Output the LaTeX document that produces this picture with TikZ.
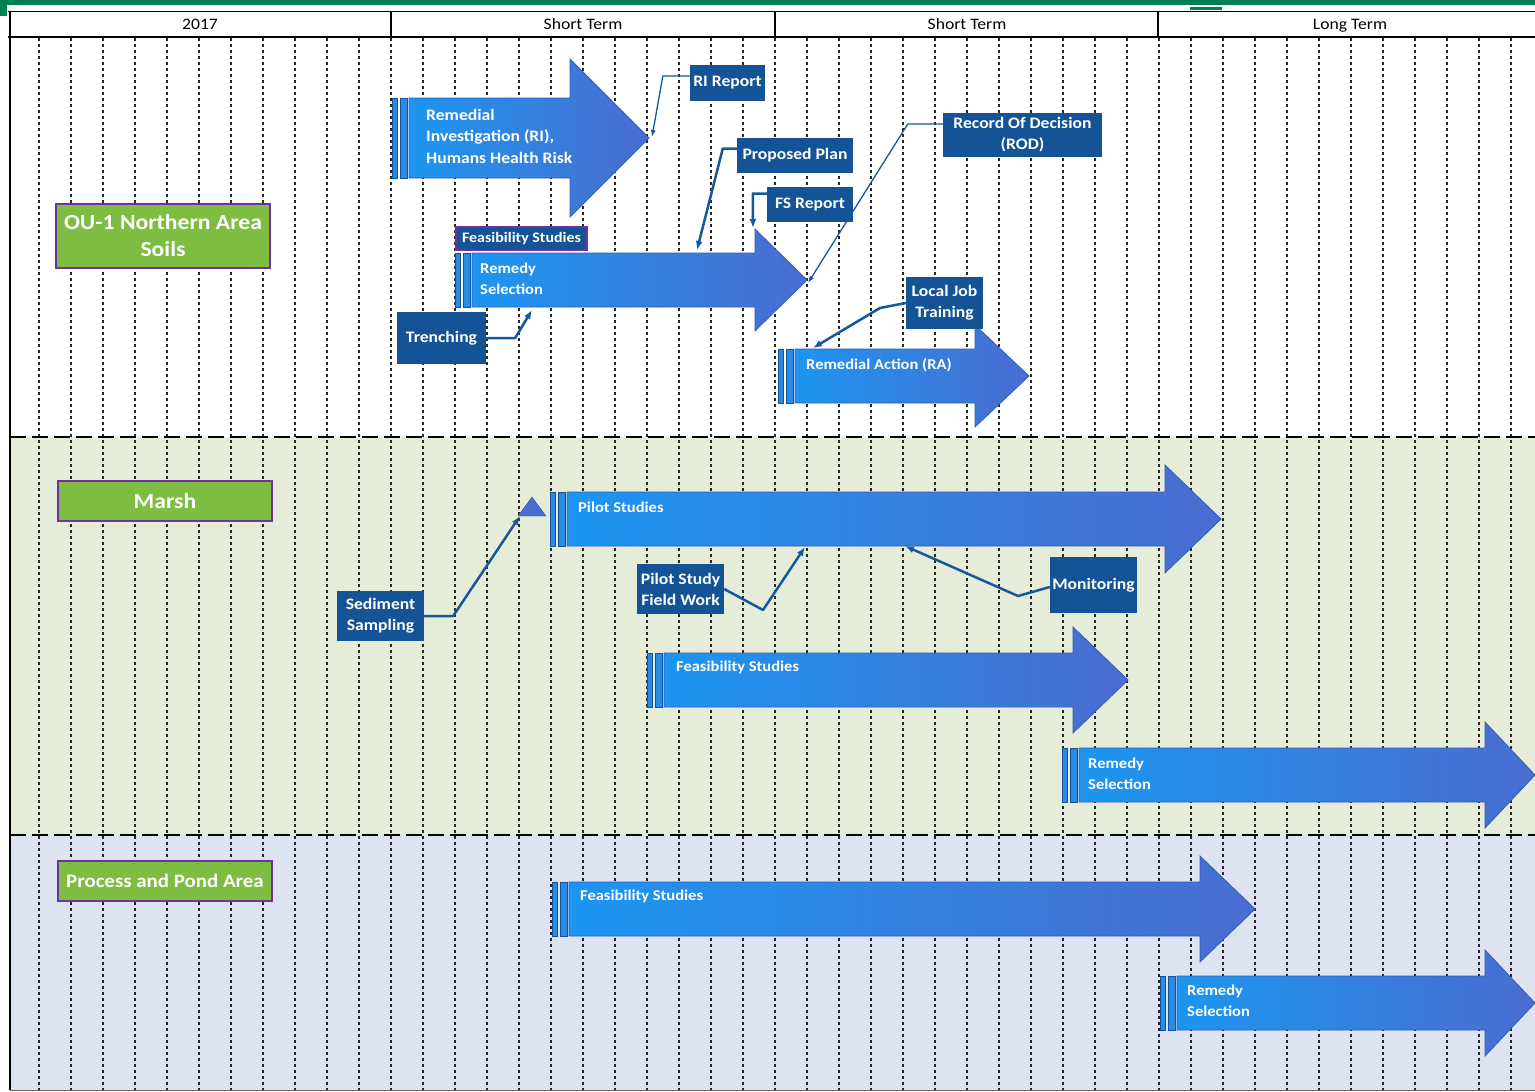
\documentclass[tikz,border=0pt]{standalone}
\usepackage{fontspec}
\setmainfont{Carlito}[FakeStretch=1.1]
\usetikzlibrary{arrows.meta}

\definecolor{BarGreen}{RGB}{0,128,80}
\definecolor{RowGreen}{RGB}{125,190,66}
\definecolor{RowPurple}{RGB}{112,48,160}
\definecolor{BandGreen}{RGB}{229,237,217}
\definecolor{BandBlue}{RGB}{221,227,240}
\definecolor{BoxBlue}{RGB}{20,84,150}
\definecolor{LinkBlue}{RGB}{22,88,158}
\definecolor{ArrLight}{RGB}{28,150,240}
\definecolor{ArrDark}{RGB}{74,108,208}
\definecolor{ArrEdge}{RGB}{50,90,190}
\definecolor{StripeBlue}{RGB}{40,140,230}

% #1 start, #2 head base, #3 tip, #4 mid y, #5 body half, #6 head half
\newcommand{\PhaseArrow}[6]{%
  \shadedraw[phase] ({#1+17},{#4-#5}) -- (#2,{#4-#5}) -- (#2,{#4-#6}) -- (#3,#4)
    -- (#2,{#4+#6}) -- (#2,{#4+#5}) -- ({#1+17},{#4+#5}) -- cycle;
  \filldraw[stripe] (#1,{#4-#5}) rectangle ({#1+5},{#4+#5});
  \filldraw[stripe] ({#1+8},{#4-#5}) rectangle ({#1+15},{#4+#5});
}

\begin{document}
\begin{tikzpicture}[
    x=1pt, y=-1pt,
    gridline/.style={draw=black!85, line width=1.6pt, dash pattern=on 3pt off 3pt},
    bandline/.style={draw=black, line width=2pt, dash pattern=on 16pt off 6pt},
    hdr/.style={font=\fontsize{16}{18}\selectfont, text=black, inner sep=0pt, anchor=base},
    rowlabel/.style={rectangle, draw=RowPurple, line width=2pt, fill=RowGreen, text=white,
        font=\bfseries\fontsize{21.5}{27}\selectfont, align=center, minimum width=214, inner sep=0pt},
    phase/.style={left color=ArrLight, right color=ArrDark, draw=ArrEdge, line width=0.8pt},
    stripe/.style={fill=StripeBlue, draw=BoxBlue, line width=1pt},
    phaselabel/.style={text=white, font=\bfseries\fontsize{15}{21}\selectfont, align=left,
        anchor=west, inner sep=0pt},
    callout/.style={rectangle, fill=BoxBlue, draw=none, text=white,
        font=\bfseries\fontsize{16}{21}\selectfont, align=center, inner sep=0pt},
    link/.style={draw=LinkBlue, line width=2.5pt, -{Latex[length=9pt,width=7pt]}, line join=round},
    thinlink/.style={link, line width=1.3pt, -{Latex[length=7pt,width=5pt]}}
]
\useasboundingbox (0,0) rectangle (1535,1092);

% bands
\fill[white] (10,38) rectangle (1535,437);
\fill[BandGreen] (10,437) rectangle (1535,835);
\fill[BandBlue] (10,835) rectangle (1535,1090);
\foreach \i in {0,...,46}
    \draw[gridline] ({39+32*\i},38) -- ({39+32*\i},1090);
\draw[bandline] (10,437) -- (1535,437);
\draw[bandline] (10,835) -- (1535,835);

% header
\fill[BarGreen] (0,0) rectangle (1535,5);
\fill[BarGreen] (0,0) rectangle (7,16);
\fill[BarGreen] (1190,7) rectangle (1222,10);
\draw[black, line width=1pt] (8,11) -- (1535,11);
\draw[black, line width=2.5pt] (8,37) -- (1535,37);
\foreach \x in {391,775,1158}
    \draw[black, line width=1.5pt] (\x,11) -- (\x,37);
\draw[black, line width=1.2pt] (10,11) -- (10,1090);
\draw[black!60, line width=1pt] (10,1090) -- (1535,1090);
\node (Hdr01) [hdr] at (200,30) {2017};
\node (Hdr02) [hdr] at (583,30) {Short Term};
\node (Hdr03) [hdr] at (967,30) {Short Term};
\node (Hdr04) [hdr] at (1350,30) {Long Term};

% rows
\node (Row01) [rowlabel, minimum height=64] at (163,236) {OU-1 Northern Area\\Soils};
\node (Row02) [rowlabel, minimum height=40] at (165,501) {Marsh};
\node (Row03) [rowlabel, minimum height=40, font=\bfseries\fontsize{19}{22}\selectfont] at (165,881) {Process and Pond Area};

% phases
\PhaseArrow{392}{570}{649}{138}{40}{79}
\PhaseArrow{455}{755}{807}{280}{27}{51}
\PhaseArrow{778}{975}{1029}{376}{27}{51}
\PhaseArrow{550}{1165}{1221}{519}{27}{54}
\PhaseArrow{647}{1073}{1128}{680}{27}{53}
\PhaseArrow{1062}{1485}{1535}{775}{27}{53}
\PhaseArrow{552}{1200}{1255}{909}{27}{53}
\PhaseArrow{1160}{1485}{1535}{1003}{27}{53}
\filldraw[fill=ArrDark, draw=ArrEdge] (518,516) -- (532,497) -- (546,516) -- cycle;

\node (Lbl01) [phaselabel, font=\bfseries\fontsize{16}{21.5}\selectfont] at (426,136) {Remedial\\Investigation (RI),\\Humans Health Risk};
\node (Lbl02) [phaselabel] at (480,279) {Remedy\\Selection};
\node (Lbl03) [phaselabel] at (806,365) {Remedial Action (RA)};
\node (Lbl04) [phaselabel] at (578,507) {Pilot Studies};
\node (Lbl05) [phaselabel] at (676,667) {Feasibility Studies};
\node (Lbl06) [phaselabel] at (1088,774) {Remedy\\Selection};
\node (Lbl07) [phaselabel] at (580,896) {Feasibility Studies};
\node (Lbl08) [phaselabel] at (1187,1001) {Remedy\\Selection};

% milestones
\node (Box01) [callout, minimum width=75, minimum height=36] at (727.5,83) {RI Report};
\node (Box02) [callout, minimum width=116, minimum height=35] at (795,155.5) {Proposed Plan};
\node (Box03) [callout, minimum width=86, minimum height=35] at (810,204.5) {FS Report};
\node (Box04) [callout, minimum width=159, minimum height=44] at (1022.5,135) {Record Of Decision\\(ROD)};
\node (Box05) [callout, minimum width=77, minimum height=52] at (944.5,303) {Local Job\\Training};
\node (Box06) [callout, minimum width=89, minimum height=52] at (441.5,338) {Trenching};
\node (Box07) [callout, minimum width=87, minimum height=50] at (380.5,616) {Sediment\\Sampling};
\node (Box08) [callout, minimum width=87, minimum height=50] at (680.5,589) {Pilot Study\\Field Work};
\node (Box09) [callout, minimum width=87, minimum height=56] at (1093.5,585) {Monitoring};
\node (Box10) [callout, draw=RowPurple, line width=1.5pt, minimum width=131, minimum height=23,
    font=\bfseries\fontsize{14.5}{16}\selectfont] at (521.5,238.5) {Feasibility Studies};

\coordinate (Tip01) at (652,137);
\coordinate (Tip02) at (697,250);
\coordinate (Tip03) at (753,228);
\coordinate (Tip04) at (808,283);
\coordinate (Bend05) at (880,308);
\coordinate (Tip05) at (813,348);
\coordinate (Tip06) at (532,310);
\coordinate (Tip07) at (520,516);
\coordinate (Bend08) at (763,610);
\coordinate (Tip08) at (805,547);
\coordinate (Bend09) at (1018,596);
\coordinate (Tip09) at (905,546);

\draw[thinlink] ([yshift=7pt]Box01.west) -- ++(-27,0) -- (Tip01);
\draw[link] ([yshift=7pt]Box02.west) -- ++(-14,0) -- (Tip02);
\draw[link] ([yshift=11pt]Box03.west) -- ++(-14,0) -- (Tip03);
\draw[thinlink] ([yshift=11pt]Box04.west) -- ++(-35,0) -- (Tip04);
\draw[link] (Box05.west) -- (Bend05) -- (Tip05);
\draw[link] (Box06.east) -- ++(29,0) -- (Tip06);
\draw[link] (Box07.east) -- ++(29,0) -- (Tip07);
\draw[link] (Box08.east) -- (Bend08) -- (Tip08);
\draw[link] ([yshift=-2pt]Box09.west) -- (Bend09) -- (Tip09);

\end{tikzpicture}
\end{document}
